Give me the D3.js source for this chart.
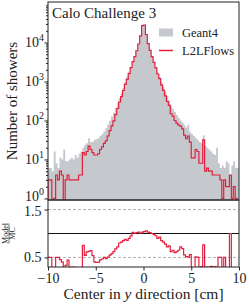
<!DOCTYPE html>
<html>
<head>
<meta charset="utf-8">
<script src="https://cdn.jsdelivr.net/npm/d3@7"></script>
<style>
body { margin: 0; background: #fff; }
svg { display: block; }
svg text { font-family: "Liberation Serif", "DejaVu Serif", serif; }
</style>
</head>
<body>
<svg></svg>
<script>
var width = 249,
    height = 307;

// 100 bins of 0.2 cm between -10 and 10
var binEdges = d3.range(101).map(i => -10 + i * 0.2);

var geant4 = [6, 6, 5, 16, 8, 6, 11, 10, 18, 9,
    9, 10, 11, 10, 13, 11, 14, 16, 20, 24,
    26, 35, 28, 28, 32, 33, 35, 40, 45, 52,
    63, 79, 100, 126, 158, 209, 282, 372, 501, 692,
    955, 1320, 1780, 2400, 3160, 4370, 6030, 8910, 14800, 26300,
    26900, 15100, 9120, 6170, 4370, 3160, 2340, 1740, 1290, 955,
    724, 550, 427, 331, 240, 200, 166, 138, 117, 100,
    89, 76, 66, 79, 50, 45, 40, 35, 32, 28,
    26, 42, 22, 20, 18, 16, 14, 13, 20, 8,
    6, 7, 6, 9, 8, 4, 7, 9, 6, 6];

var l2lflows = [3, 3, 0, 1, 4, 3, 5, 4, 0, 3,
    4, 3, 3, 3, 3, 3, 4, 4, 15, 13,
    16, 22, 18, 15, 13, 13, 14, 18, 21, 26,
    30, 40, 55, 73, 98, 142, 203, 298, 411, 588,
    840, 1130, 1600, 2280, 3230, 4370, 6150, 9180, 14900, 27100,
    28000, 15900, 9390, 6290, 4370, 3100, 2230, 1560, 1190, 812,
    594, 429, 307, 245, 149, 130, 100, 86, 76, 72,
    61, 42, 34, 40, 28, 11, 11, 18, 16, 8,
    8, 32, 5, 6, 5, 5, 4, 4, 4, 4,
    3, 1, 3, 2, 2, 4, 1, 2, 1, 0];

var xTicks = [-10, -5, 0, 5, 10];
var yMajorTicks = [1, 10, 100, 1000, 10000];
var ratioTicks = [0.5, 1.5];
var ratioLines = [0.5, 1.5];

var gray = "#c5c9cd",
    red = "#e41f3d",
    ink = "#222",
    serif = "Liberation Serif, DejaVu Serif, serif";

var m = { left: 48, right: 239, top: 2, mid: 200, bottom: 267 };

var svg = d3.select("svg")
    .attr("width", width)
    .attr("height", height)
    .attr("font-family", serif);

var x = d3.scaleLinear().domain([-10, 10]).range([m.left, m.right]);
var y = d3.scaleLog().domain([Math.pow(10, -0.04), Math.pow(10, 5.04)]).range([m.mid, m.top]);
var yr = d3.scaleLinear().domain([0.3, 1.7]).range([m.bottom, m.mid]);

var defs = svg.append("defs");
defs.append("clipPath").attr("id", "clip-main")
    .append("rect").attr("x", m.left).attr("y", m.top)
    .attr("width", m.right - m.left).attr("height", m.mid - m.top);
defs.append("clipPath").attr("id", "clip-ratio")
    .append("rect").attr("x", m.left).attr("y", m.mid)
    .attr("width", m.right - m.left).attr("height", m.bottom - m.mid);

// step points: each edge carries the value of the bin to its right
function stepPoints(values) {
    return binEdges.map((e, i) => [e, values[Math.min(i, values.length - 1)]]);
}

var floor = 0.1; // empty bins fall below the log axis
var ratio = l2lflows.map((v, i) => geant4[i] > 0 ? v / geant4[i] : 0);

// main panel
var gMain = svg.append("g").attr("clip-path", "url(#clip-main)");

gMain.append("path")
    .datum(stepPoints(geant4))
    .attr("fill", gray)
    .attr("d", d3.area()
        .curve(d3.curveStepAfter)
        .x(d => x(d[0]))
        .y0(m.mid)
        .y1(d => y(Math.max(d[1], floor))));

var redPts = [[-10, floor]].concat(stepPoints(l2lflows), [[10, floor]]);
gMain.append("path")
    .datum(redPts)
    .attr("fill", "none")
    .attr("stroke", red)
    .attr("stroke-width", 1.2)
    .attr("d", d3.line()
        .curve(d3.curveStepAfter)
        .x(d => x(d[0]))
        .y(d => y(Math.max(d[1], floor))));

// ratio panel
var gRatio = svg.append("g").attr("clip-path", "url(#clip-ratio)");

gRatio.selectAll("line.ref")
    .data(ratioLines)
    .enter().append("line")
    .attr("class", "ref")
    .attr("x1", m.left).attr("x2", m.right)
    .attr("y1", d => yr(d)).attr("y2", d => yr(d))
    .attr("stroke", "#a8a8a8")
    .attr("stroke-width", 0.9)
    .attr("stroke-dasharray", "3,2");

gRatio.append("line")
    .attr("x1", m.left).attr("x2", m.right)
    .attr("y1", yr(1)).attr("y2", yr(1))
    .attr("stroke", "#111")
    .attr("stroke-width", 1);

gRatio.append("path")
    .datum(stepPoints(ratio))
    .attr("fill", "none")
    .attr("stroke", red)
    .attr("stroke-width", 1.2)
    .attr("d", d3.line()
        .curve(d3.curveStepAfter)
        .x(d => x(d[0]))
        .y(d => yr(Math.max(d[1], 0.05))));

// frames
svg.append("rect")
    .attr("x", m.left).attr("y", m.top)
    .attr("width", m.right - m.left).attr("height", m.mid - m.top)
    .attr("fill", "none").attr("stroke", ink).attr("stroke-width", 1);
svg.append("rect")
    .attr("x", m.left).attr("y", m.mid)
    .attr("width", m.right - m.left).attr("height", m.bottom - m.mid)
    .attr("fill", "none").attr("stroke", ink).attr("stroke-width", 1);

// main y axis (log)
var yMinor = [];
yMajorTicks.forEach(t => d3.range(2, 10).forEach(k => yMinor.push(t * k)));

svg.append("g")
    .attr("transform", "translate(" + m.left + ",0)")
    .call(d3.axisLeft(y).tickValues(yMajorTicks).tickSize(3.5).tickFormat(""))
    .call(g => g.select(".domain").remove());
svg.append("g")
    .attr("transform", "translate(" + m.left + ",0)")
    .call(d3.axisLeft(y).tickValues(yMinor).tickSize(2).tickFormat(""))
    .call(g => g.select(".domain").remove());

var yLabels = svg.append("g")
    .selectAll("text")
    .data(yMajorTicks)
    .enter().append("text")
    .attr("x", m.left - 4)
    .attr("y", d => y(d) + 4.5 - (d === 1 ? 1.5 : 0))
    .attr("text-anchor", "end")
    .attr("font-family", serif)
    .attr("font-size", 14)
    .attr("fill", ink);
yLabels.append("tspan").text("10");
yLabels.append("tspan")
    .attr("dy", -6)
    .attr("font-size", 10)
    .text(d => Math.round(Math.log10(d)));

// ratio y axis
svg.append("g")
    .attr("transform", "translate(" + m.left + ",0)")
    .call(d3.axisLeft(yr).tickValues(ratioTicks).tickSize(3.5).tickFormat(d3.format(".1f")))
    .call(g => g.select(".domain").remove())
    .call(g => g.selectAll("text")
        .attr("font-family", serif)
        .attr("font-size", 14)
        .attr("dy", d => d === 1.5 ? "0.45em" : "0.32em")
        .attr("fill", ink));

// x axis
svg.append("g")
    .attr("transform", "translate(0," + m.bottom + ")")
    .call(d3.axisBottom(x).tickValues(xTicks).tickSize(3.5)
        .tickFormat(d => d < 0 ? "\u2212" + Math.abs(d) : d))
    .call(g => g.select(".domain").remove())
    .call(g => g.selectAll("text")
        .attr("font-family", serif)
        .attr("font-size", 14)
        .attr("fill", ink));

svg.selectAll(".tick line").attr("stroke", ink);

// axis labels
var xl = svg.append("text")
    .attr("x", (m.left + m.right) / 2)
    .attr("y", 299)
    .attr("text-anchor", "middle")
    .attr("font-family", serif)
    .attr("font-size", 15.5)
    .attr("fill", ink);
xl.append("tspan").text("Center in ");
xl.append("tspan").attr("font-style", "italic").text("y");
xl.append("tspan").text(" direction [cm]");

svg.append("text")
    .attr("transform", "translate(17," + (m.top + m.mid) / 2 + ") rotate(-90)")
    .attr("text-anchor", "middle")
    .attr("font-family", serif)
    .attr("font-size", 15)
    .attr("fill", ink)
    .text("Number of showers");

var frac = svg.append("g")
    .attr("transform", "translate(9," + yr(1) + ") rotate(-90)")
    .attr("font-family", serif)
    .attr("font-size", 8)
    .attr("fill", ink);
frac.append("text").attr("text-anchor", "middle").attr("y", -1.3).text("Model");
frac.append("line").attr("x1", -10).attr("x2", 10).attr("stroke", ink).attr("stroke-width", 0.6);
frac.append("text").attr("text-anchor", "middle").attr("y", 6.3).text("MC");

// title and legend
svg.append("text")
    .attr("x", 52).attr("y", 18)
    .attr("font-family", serif)
    .attr("font-size", 15)
    .attr("fill", ink)
    .text("Calo Challenge 3");

var legend = svg.append("g")
    .attr("font-family", serif)
    .attr("font-size", 12.5)
    .attr("fill", ink);
legend.append("rect")
    .attr("x", 159).attr("y", 28.5).attr("width", 14).attr("height", 8)
    .attr("fill", gray);
legend.append("text").attr("x", 182).attr("y", 36.5).text("Geant4");
legend.append("line")
    .attr("x1", 159).attr("x2", 173).attr("y1", 50.5).attr("y2", 50.5)
    .attr("stroke", red).attr("stroke-width", 1.5);
legend.append("text").attr("x", 182).attr("y", 55).text("L2LFlows");
</script>
</body>
</html>
